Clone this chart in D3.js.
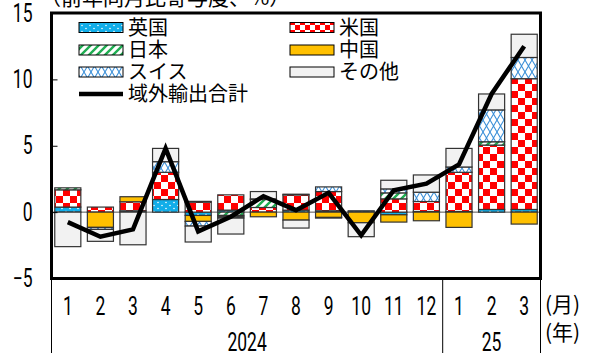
<!DOCTYPE html>
<html>
<head>
<meta charset="utf-8">
<script src="https://cdn.jsdelivr.net/npm/d3@7"></script>
<style>
  html, body { margin: 0; padding: 0; background: #fff; }
  svg { display: block; }
</style>
</head>
<body>
<svg id="chart" width="590" height="353"></svg>
<script>
// Monthly contributions to export growth by destination (y/y, %pt)
const months = ["1","2","3","4","5","6","7","8","9","10","11","12","1","2","3"];
const yearGroups = ["2024", "25"];
const yearSpans = [[0, 12], [12, 15]];
const seriesNames = ["英国", "米国", "日本", "中国", "スイス", "その他"];

const uk      = [0.38, 0,    0.1,  0.95, -0.25, 0.15, 0,    0.15, 0.1,  0.1,  -0.2,  0.05, 0.05, 0.2,  0.2];
const us      = [1.3,  0.38, 0.68, 2.05, 0.76,  1.15, 0.35, 1.15, 1.45, 0,    1.0,   0.75, 2.95, 4.85, 9.85];
const japan   = [0.15, 0,    0,    0,    0.05,  -0.25,0.6,  0.05, 0,    0,    0.45,  0,    0,    0.25, 0];
const china   = [0,    -1.15,0.38, 0,    -0.45, -0.1, -0.35,-0.6, -0.4, -0.8, -0.55, -0.65,-1.15,0,    -0.9];
const swiss   = [0,    -0.15,0,    0.8,  -0.35, -0.1, 0.05, 0,    0.35, 0,    0.3,   0.7,  0.4,  2.4,  1.6];
const others  = [-2.6, -0.9, -2.46,1.0,  -1.2,  -1.2, 0.55, -0.6, -0.05,-1.05,0.65,  1.3,  1.4,  1.2,  1.75];
const total   = [-0.75,-1.85,-1.3, 4.8,  -1.45, -0.35,1.2,  0.15, 1.45, -1.75,1.65,  2.15, 3.6,  8.9,  12.5];

const yTicks = [-5, 0, 5, 10, 15];
const title = "（前年同月比寄与度、%）";
const monthUnit = "(月)";
const yearUnit = "(年)";

const seriesValues = [uk, us, japan, china, swiss, others];

// narrow numerals: Roboto squeezed horizontally
const numFont = "Roboto, 'Liberation Sans', sans-serif";
const numSize = 25;
const squeeze = 0.7;
const jpFont = "'Noto Sans CJK JP', 'Noto Sans', sans-serif";

function narrow(sel) {
  sel.each(function () {
    const t = d3.select(this);
    const x0 = +t.attr("x") || 0;
    t.attr("x", x0 / squeeze)
      .attr("transform", `scale(${squeeze},1)`)
      .attr("font-family", numFont)
      .attr("font-size", numSize)
      .attr("fill", "#000");
  });
}

const svg = d3.select("#chart");
const frame = { left: 51.5, right: 540.5, top: 13, bottom: 278.5 };

const x = d3.scaleBand()
  .domain(d3.range(months.length))
  .range([frame.left, frame.right])
  .paddingInner(0.2)
  .paddingOuter(0.1);

const y = d3.scaleLinear()
  .domain([-5, 15])
  .range([frame.bottom, frame.top]);

// ---- fill patterns ----
const defs = svg.append("defs");

function dots(id) {
  const p = defs.append("pattern").attr("id", id)
    .attr("patternUnits", "userSpaceOnUse").attr("width", 8).attr("height", 6);
  p.append("rect").attr("width", 8).attr("height", 6).attr("fill", "#12aee9");
  p.append("circle").attr("cx", 2).attr("cy", 1.5).attr("r", 0.8).attr("fill", "#fff");
  p.append("circle").attr("cx", 6).attr("cy", 4.5).attr("r", 0.8).attr("fill", "#fff");
}
function checker(id, s) {
  const p = defs.append("pattern").attr("id", id)
    .attr("patternUnits", "userSpaceOnUse").attr("width", 2 * s).attr("height", 2 * s);
  p.append("rect").attr("width", 2 * s).attr("height", 2 * s).attr("fill", "#fff");
  p.append("rect").attr("width", s).attr("height", s).attr("fill", "#ff0000");
  p.append("rect").attr("x", s).attr("y", s).attr("width", s).attr("height", s).attr("fill", "#ff0000");
}
function hatch(id) {
  const p = defs.append("pattern").attr("id", id)
    .attr("patternUnits", "userSpaceOnUse").attr("width", 8).attr("height", 8);
  p.append("rect").attr("width", 8).attr("height", 8).attr("fill", "#fff");
  p.append("path").attr("d", "M-2,2 L2,-2 M0,8 L8,0 M6,10 L10,6")
    .attr("stroke", "#1fae52").attr("stroke-width", 2.4);
}
function lattice(id) {
  const p = defs.append("pattern").attr("id", id)
    .attr("patternUnits", "userSpaceOnUse").attr("width", 14).attr("height", 12);
  p.append("rect").attr("width", 14).attr("height", 12).attr("fill", "#fff");
  p.append("path").attr("d", "M0,0 L7,12 L14,0 M0,12 L7,0 L14,12")
    .attr("stroke", "#3a8fd8").attr("stroke-width", 1.1).attr("fill", "none");
}
dots("pUK");
checker("pUS", 7);
checker("pUSlegend", 5);
hatch("pJP");
lattice("pCH");

const fills = {
  "英国": "url(#pUK)",
  "米国": "url(#pUS)",
  "日本": "url(#pJP)",
  "中国": "#ffc000",
  "スイス": "url(#pCH)",
  "その他": "#f2f2f2"
};
const legendFills = Object.assign({}, fills, { "米国": "url(#pUSlegend)" });

// ---- title (partly above the top edge) ----
svg.append("text")
  .attr("x", 40).attr("y", 5)
  .attr("font-family", jpFont).attr("font-size", 21)
  .attr("fill", "#000")
  .text(title);

// ---- zero line ----
svg.append("line")
  .attr("x1", frame.left).attr("x2", frame.right)
  .attr("y1", y(0)).attr("y2", y(0))
  .attr("stroke", "#555").attr("stroke-width", 1);

// ---- stacked bars ----
const rows = months.map((m, i) => {
  const r = { idx: i };
  seriesNames.forEach((k, j) => { r[k] = seriesValues[j][i]; });
  return r;
});
const stacked = d3.stack()
  .keys(seriesNames)
  .offset(d3.stackOffsetDiverging)(rows);

svg.append("g").selectAll("g")
  .data(stacked)
  .join("g")
  .attr("fill", d => fills[d.key])
  .selectAll("rect")
  .data(d => d.filter(s => Math.abs(s[1] - s[0]) > 1e-9))
  .join("rect")
  .attr("x", d => x(d.data.idx))
  .attr("width", x.bandwidth())
  .attr("y", d => y(Math.max(d[0], d[1])))
  .attr("height", d => Math.abs(y(d[0]) - y(d[1])))
  .attr("stroke", "#333")
  .attr("stroke-width", 1.2);

// ---- total line ----
const line = d3.line()
  .x((d, i) => x(i) + x.bandwidth() / 2)
  .y(d => y(d));
svg.append("path")
  .datum(total)
  .attr("d", line)
  .attr("fill", "none")
  .attr("stroke", "#000")
  .attr("stroke-width", 4.5)
  .attr("stroke-linejoin", "miter");

// ---- frame ----
svg.append("rect")
  .attr("x", frame.left).attr("y", frame.top)
  .attr("width", frame.right - frame.left)
  .attr("height", frame.bottom - frame.top)
  .attr("fill", "none").attr("stroke", "#000").attr("stroke-width", 3);

// ---- y axis ----
const yAxis = svg.append("g")
  .attr("transform", `translate(${frame.left},0)`)
  .call(d3.axisLeft(y).tickValues(yTicks).tickSizeInner(-6).tickSizeOuter(0).tickPadding(19));
yAxis.select(".domain").remove();
yAxis.selectAll("line").attr("stroke", "#000").attr("stroke-width", 1);
yAxis.selectAll("text").call(narrow);

// ---- x axis (months) ----
const xAxis = svg.append("g")
  .attr("transform", `translate(0,${frame.bottom})`)
  .call(d3.axisBottom(x).tickFormat(i => months[i]).tickSize(0).tickPadding(19));
xAxis.select(".domain").remove();
xAxis.selectAll("text").call(narrow);

// year groups and separators
const step = x.step();
const edge = i => Math.min(frame.left + i * step, frame.right);
const seps = [0, 12, 15];
svg.append("g").selectAll("line")
  .data(seps)
  .join("line")
  .attr("x1", d => edge(d))
  .attr("x2", d => edge(d))
  .attr("y1", frame.bottom).attr("y2", 353)
  .attr("stroke", "#000").attr("stroke-width", 1);

svg.append("g").selectAll("text")
  .data(yearGroups)
  .join("text")
  .attr("x", (d, i) => (edge(yearSpans[i][0]) + edge(yearSpans[i][1])) / 2)
  .attr("y", 351)
  .attr("text-anchor", "middle")
  .text(d => d)
  .call(narrow);

svg.append("text")
  .attr("x", 545).attr("y", 312)
  .attr("font-family", jpFont).attr("font-size", 21).attr("fill", "#000")
  .text(monthUnit);
svg.append("text")
  .attr("x", 545).attr("y", 340)
  .attr("font-family", jpFont).attr("font-size", 21).attr("fill", "#000")
  .text(yearUnit);

// ---- legend ----
const legendItems = [
  { name: "英国", col: 0, row: 0 },
  { name: "米国", col: 1, row: 0 },
  { name: "日本", col: 0, row: 1 },
  { name: "中国", col: 1, row: 1 },
  { name: "スイス", col: 0, row: 2 },
  { name: "その他", col: 1, row: 2 }
];
const colX = [79, 290];
const rowY = [27.5, 50, 72, 94];
const lg = svg.append("g");
legendItems.forEach(it => {
  lg.append("rect")
    .attr("x", colX[it.col]).attr("y", rowY[it.row] - 5)
    .attr("width", 44).attr("height", 10)
    .attr("fill", legendFills[it.name])
    .attr("stroke", "#000").attr("stroke-width", 1);
  lg.append("text")
    .attr("x", colX[it.col] + 49).attr("y", rowY[it.row])
    .attr("dy", "0.36em")
    .attr("font-family", jpFont).attr("font-size", 20).attr("fill", "#000")
    .text(it.name);
});
lg.append("line")
  .attr("x1", colX[0]).attr("x2", colX[0] + 44)
  .attr("y1", rowY[3]).attr("y2", rowY[3])
  .attr("stroke", "#000").attr("stroke-width", 4.5);
lg.append("text")
  .attr("x", colX[0] + 49).attr("y", rowY[3])
  .attr("dy", "0.36em")
  .attr("font-family", jpFont).attr("font-size", 20).attr("fill", "#000")
  .text("域外輸出合計");
</script>
</body>
</html>
